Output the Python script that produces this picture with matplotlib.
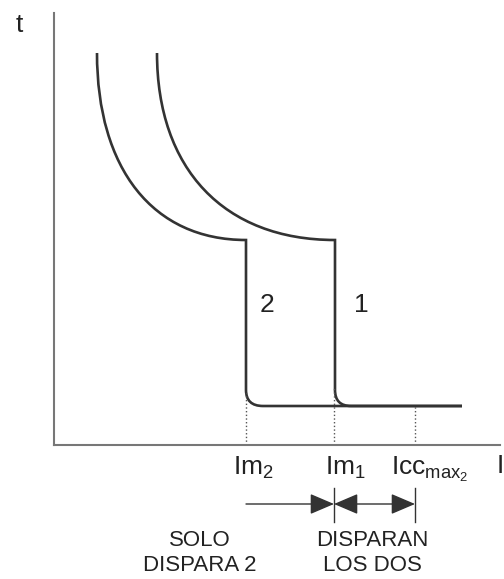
import matplotlib
matplotlib.use("Agg")
import matplotlib.pyplot as plt
from matplotlib.path import Path
from matplotlib.patches import PathPatch

plt.rcParams['font.family'] = ['Liberation Sans', 'DejaVu Sans']
plt.rcParams['mathtext.fontset'] = 'custom'
plt.rcParams['mathtext.rm'] = 'Liberation Sans'
plt.rcParams['mathtext.it'] = 'Liberation Sans'

# trip curves, current I vs time t (arbitrary units)
# each: start, 2 bezier controls, knee, end of vertical, corner control, corner end, tail end
curve2_i = [43, 43, 99, 192, 192, 192, 209, 408]
curve2_t = [392, 276, 205, 205, 55, 39, 39, 39]
curve1_i = [103, 103, 170, 281, 281, 281, 297, 408]
curve1_t = [392, 276, 205, 205, 55, 39, 39, 39]

# marked currents and where the dotted guides stop
mark_names = ['Im$_2$', 'Im$_1$', 'Icc$_{\\mathrm{max}_2}$']
mark_i = [192, 280, 361]
mark_t = [52, 57, 39]

ink = '#333333'
grey = '#777777'


def trip_path(xs, ys):
    codes = [Path.MOVETO, Path.CURVE4, Path.CURVE4, Path.CURVE4,
             Path.LINETO, Path.CURVE3, Path.CURVE3, Path.LINETO]
    return Path(list(zip(xs, ys)), codes)


fig = plt.figure(figsize=(5.04, 5.79), dpi=100)
ax = fig.add_axes([54 / 504, 134 / 579, 446 / 504, 432 / 579])
ax.set_xlim(0, 446)
ax.set_ylim(0, 432)
for s in ['top', 'right']:
    ax.spines[s].set_visible(False)
for s in ['left', 'bottom']:
    ax.spines[s].set_color(grey)
    ax.spines[s].set_linewidth(1.5)
ax.set_xticks([])
ax.set_yticks([])

# curves
for xs, ys in [(curve2_i, curve2_t), (curve1_i, curve1_t)]:
    ax.add_patch(PathPatch(trip_path(xs, ys), facecolor='none',
                           edgecolor=ink, lw=1.9, capstyle='butt'))
ax.text(213, 140, '2', fontsize=19, color='#222222', ha='center', va='center')
ax.text(307, 140, '1', fontsize=19, color='#222222', ha='center', va='center')

# dotted guides + labels
for x, top in zip(mark_i, mark_t):
    ax.plot([x, x], [0, top], color='#555555', lw=1, ls=':', clip_on=False)
x_lab = [199, 291, 376]
for name, x in zip(mark_names, x_lab):
    ax.text(x, -30, name, fontsize=19, color='#222222', ha='center',
            va='baseline', clip_on=False)

# axis names
ax.text(-35, 420, 't', fontsize=19, color='#222222', ha='center',
        va='center', clip_on=False)
fig.text(1.0, 106 / 579, 'I', fontsize=19, color='#222222', ha='right',
         va='baseline')

# arrows for the trip zones
y_arr = -59
ax.annotate('', xy=(mark_i[1], y_arr), xytext=(mark_i[0], y_arr),
            arrowprops=dict(arrowstyle='-|>,head_length=0.75,head_width=0.32',
                            color=ink, lw=1, shrinkA=0, shrinkB=0,
                            mutation_scale=20),
            annotation_clip=False)
ax.annotate('', xy=(mark_i[2], y_arr), xytext=(mark_i[1], y_arr),
            arrowprops=dict(arrowstyle='<|-|>,head_length=0.75,head_width=0.32',
                            color=ink, lw=1, shrinkA=0, shrinkB=0,
                            mutation_scale=20),
            annotation_clip=False)
for x in mark_i[1:]:
    ax.plot([x, x], [-43, -77], color=ink, lw=1, clip_on=False)

ax.text(146, -108, 'SOLO\nDISPARA 2', fontsize=16, color='#222222',
        ha='center', va='center', multialignment='center',
        linespacing=1.25, clip_on=False)
ax.text(318, -108, 'DISPARAN\nLOS DOS', fontsize=16, color='#222222',
        ha='center', va='center', multialignment='center',
        linespacing=1.25, clip_on=False)

fig.savefig('out.png', dpi=100)
